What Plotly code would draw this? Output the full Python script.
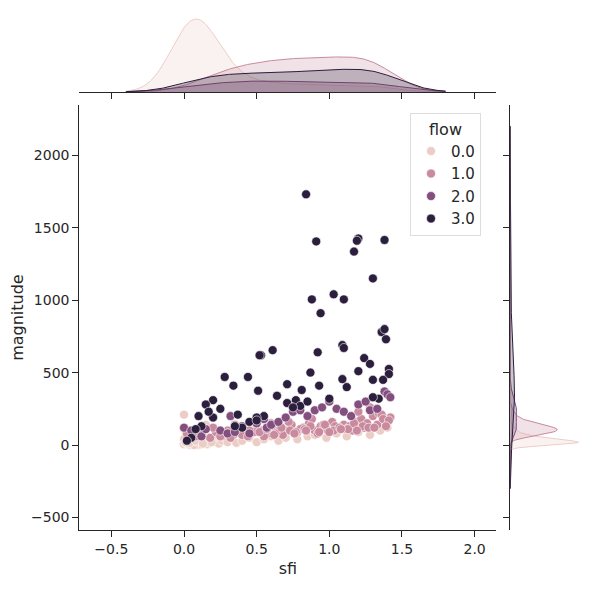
import numpy as np
import plotly.graph_objects as go

flows = ["0.0", "1.0", "2.0", "3.0"]
colors = ["#eccdc5", "#c98a9e", "#834f7e", "#2c1e3d"]

sfi_0 = [0.0, 0.0, 0.01, 0.02, 0.02, 0.03, 0.03, 0.04, 0.05, 0.05, 0.06, 0.06, 0.07, 0.08, 0.08, 0.09, 0.1, 0.1,
         0.11, 0.12, 0.13, 0.14, 0.15, 0.16, 0.17, 0.18, 0.2, 0.22, 0.24, 0.26, 0.28, 0.3, 0.33, 0.36, 0.4, 0.45,
         0.5, 0.55, 0.6, 0.65, 0.7, 0.78, 0.85, 0.9, 0.98, 1.05, 1.12, 1.2, 1.28, 1.35, 1.4, 0.15, 0.05, 0.0,
         0.0, 0.01, 0.02, 0.03, 0.04, 0.04, 0.05, 0.06, 0.07, 0.08, 0.09, 0.1, 0.11, 0.12, 0.02, 0.03, 0.05,
         0.06, 0.07, 0.09, 0.0, 0.01, 0.04, 0.08, 0.13, 0.19]
mag_0 = [210, 10, 60, 30, 5, 40, 15, 20, 50, 0, 25, 70, 10, 35, 5, 20, 40, 0, 15, 30, 10, 50, 20, 5, 35, 15,
         25, 40, 10, 30, 60, 20, 45, 15, 30, 50, 20, 40, 60, 30, 50, 40, 60, 70, 50, 80, 60, 90, 70, 100, 120, 140, 90, 110,
         5, 15, 10, 20, 0, 30, 10, 5, 20, 15, 25, 10, 30, 5, 20, 10, 35, 15, 0, 25, 40, 20, 15, 30, 10, 20]

sfi_1 = [0.02, 0.08, 0.12, 0.18, 0.22, 0.26, 0.3, 0.34, 0.38, 0.42, 0.46, 0.5, 0.54, 0.58, 0.62, 0.66, 0.7, 0.74,
         0.78, 0.82, 0.86, 0.9, 0.94, 0.98, 1.02, 1.06, 1.1, 1.14, 1.18, 1.22, 1.26, 1.3, 1.34, 1.38, 1.42,
         0.2, 0.35, 0.48, 0.6, 0.72, 0.8, 0.88, 0.96, 1.04, 1.12, 1.2, 1.28, 1.36, 1.4, 0.55, 0.68, 0.92, 1.16, 1.24,
         0.25, 0.3, 0.4, 0.45, 0.52, 0.57, 0.63, 0.67, 0.73, 0.77, 0.83, 0.87, 0.93, 0.97, 1.03, 1.07, 1.13,
         1.17, 1.23, 1.27, 1.33, 1.37, 1.41, 0.32, 0.44, 0.62, 0.76, 0.84, 1.0, 1.08, 1.19, 1.31, 1.39]
mag_1 = [80, 60, 70, 50, 90, 60, 100, 70, 110, 80, 90, 120, 100, 80, 130, 110, 100, 140, 90, 120, 150, 100,
         130, 110, 160, 120, 140, 130, 160, 180, 150, 200, 220, 170, 190, 120, 140, 90, 150, 160, 110, 180,
         140, 130, 110, 230, 260, 210, 160, 60, 70, 80, 100, 120,
         60, 80, 70, 100, 90, 110, 80, 120, 100, 90, 110, 130, 90, 140, 100, 120, 110,
         150, 130, 120, 140, 180, 170, 50, 60, 70, 80, 100, 90, 110, 100, 120, 130]

sfi_2 = [0.0, 0.05, 0.12, 0.15, 0.25, 0.3, 0.32, 0.35, 0.4, 0.45, 0.5, 0.55, 0.57, 0.6, 0.65, 0.7, 0.75, 0.8,
         0.85, 0.9, 0.95, 1.0, 1.05, 1.1, 1.15, 1.2, 1.25, 1.28, 1.33, 1.38, 1.4, 1.42]
mag_2 = [120, 100, 60, 110, 100, 80, 200, 90, 130, 80, 150, 180, 120, 140, 160, 190, 230, 240, 200, 240,
         260, 300, 250, 230, 200, 280, 300, 240, 250, 370, 350, 330]

sfi_3 = [0.84, 0.91, 1.2, 1.19, 1.17, 1.38, 1.3, 1.03, 0.88, 1.1, 0.94, 1.36, 1.38, 1.39, 1.09, 1.1, 0.92, 0.61,
         0.53, 0.52, 0.87, 0.28, 0.34, 0.44, 0.51, 0.71, 0.81, 0.93, 1.09, 1.12, 1.24, 1.28, 1.3, 1.34, 1.41,
         1.41, 1.2, 0.2, 0.15, 0.25, 0.37, 0.64, 0.71, 0.77, 0.8, 0.85, 0.75, 0.55, 0.5, 0.45, 0.2, 0.17, 0.1,
         0.12, 0.08, 0.05, 0.02, 0.4, 0.35, 0.5, 1.0, 1.3, 1.37]
mag_3 = [1730, 1405, 1425, 1410, 1335, 1415, 1150, 1040, 1005, 1005, 910, 780, 800, 730, 690, 670, 640, 655,
         620, 620, 500, 470, 410, 470, 375, 420, 380, 410, 455, 400, 600, 560, 450, 320, 525, 490, 510, 310,
         280, 250, 210, 340, 290, 310, 270, 300, 260, 200, 190, 160, 190, 230, 200, 130, 110, 50, 30, 120,
         130, 170, 320, 330, 450]

groups = [(sfi_0, mag_0), (sfi_1, mag_1), (sfi_2, mag_2), (sfi_3, mag_3)]
n_total = sum(len(g[0]) for g in groups)


def kde(vals, grid, weight):
    v = np.asarray(vals, float)
    bw = v.std(ddof=1) * len(v) ** (-0.2)
    d = np.exp(-0.5 * ((grid[:, None] - v[None, :]) / bw) ** 2).sum(1)
    return d / (len(v) * bw * np.sqrt(2 * np.pi)) * weight


def fill(c, a):
    c = c.lstrip("#")
    return "rgba(%d,%d,%d,%s)" % (int(c[0:2], 16), int(c[2:4], 16), int(c[4:6], 16), a)


fig = go.Figure()
gx = np.linspace(-0.4, 1.8, 300)
gy = np.linspace(-300, 2200, 500)
for i, (xs, ys) in enumerate(groups):
    w = len(xs) / n_total
    fig.add_trace(go.Scatter(x=gx, y=kde(xs, gx, w), mode="lines", fill="tozeroy",
                             line=dict(color=colors[i], width=1), fillcolor=fill(colors[i], 0.25),
                             xaxis="x2", yaxis="y2", showlegend=False, hoverinfo="skip"))
    fig.add_trace(go.Scatter(x=kde(ys, gy, w), y=gy, mode="lines", fill="tozerox",
                             line=dict(color=colors[i], width=1), fillcolor=fill(colors[i], 0.25),
                             xaxis="x3", yaxis="y3", showlegend=False, hoverinfo="skip"))

for i, (xs, ys) in enumerate(groups):
    fig.add_trace(go.Scatter(x=xs, y=ys, mode="markers", name=flows[i],
                             marker=dict(color=colors[i], size=9, line=dict(color="white", width=0.6))))

axis_common = dict(showline=True, linecolor="#262626", linewidth=1.25, ticks="outside", ticklen=6,
                   tickcolor="#262626", showgrid=False, zeroline=False)
xd = [0.119, 0.814]
yd = [0.130, 0.838]
fig.update_layout(
    width=600, height=600, margin=dict(l=0, r=0, t=0, b=0),
    plot_bgcolor="white", paper_bgcolor="white",
    font=dict(family="DejaVu Sans", size=14, color="#262626"),
    xaxis=dict(domain=xd, range=[-0.72, 2.15], anchor="y",
               tickvals=[-0.5, 0, 0.5, 1, 1.5, 2], ticktext=["−0.5", "0.0", "0.5", "1.0", "1.5", "2.0"],
               title=dict(text="sfi", font=dict(size=16), standoff=6), **axis_common),
    yaxis=dict(domain=yd, range=[-586, 2345], anchor="x",
               tickvals=[-500, 0, 500, 1000, 1500, 2000], ticktext=["−500", "0", "500", "1000", "1500", "2000"],
               title=dict(text="magnitude", font=dict(size=16), standoff=6), **axis_common),
    xaxis2=dict(domain=xd, range=[-0.72, 2.15], anchor="y2",
                tickvals=[-0.5, 0, 0.5, 1, 1.5, 2], showticklabels=False, **axis_common),
    yaxis2=dict(domain=[0.86, 0.988], anchor="x2", rangemode="tozero", visible=False),
    xaxis3=dict(domain=[0.837, 0.957], anchor="y3", rangemode="tozero", visible=False),
    yaxis3=dict(domain=yd, range=[-586, 2345], anchor="x3",
                tickvals=[-500, 0, 500, 1000, 1500, 2000], showticklabels=False, **axis_common),
    legend=dict(title=dict(text="flow", side="top center", font=dict(size=16)), x=0.67, y=0.825,
                xanchor="left", yanchor="top", bordercolor="#dddddd", borderwidth=1,
                font=dict(size=15), bgcolor="rgba(255,255,255,0.8)"),
)
fig.write_html("out.html")
